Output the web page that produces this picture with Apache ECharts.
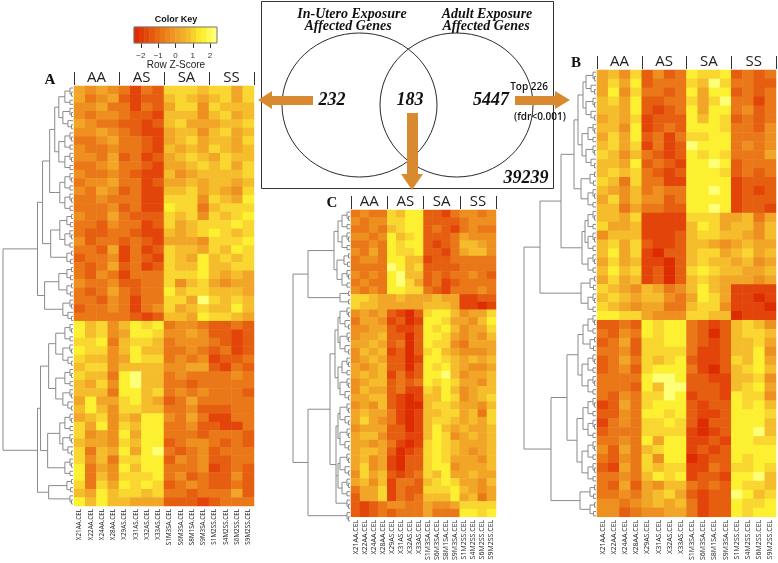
<!DOCTYPE html>
<html><head><meta charset="utf-8">
<style>html,body{margin:0;padding:0;background:#fff}#c{width:778px;height:563px}</style>
<script src="https://cdn.jsdelivr.net/npm/echarts@6/dist/echarts.min.js"></script>
</head><body><div id="c"></div>
<script>
const samples=['X21AA.CEL','X22AA.CEL','X24AA.CEL','X28AA.CEL','X29AS.CEL','X31AS.CEL','X32AS.CEL','X33AS.CEL','S1M3SA.CEL','S6M3SA.CEL','S8M1SA.CEL','S9M3SA.CEL','S1M2SS.CEL','S4M2SS.CEL','S6M2SS.CEL','S9M2SS.CEL'];
const groups=['AA','AS','SA','SS'];
const keyTicks=[-2,-1,0,1,2];
const keyLevels=[0,.6,1.2,1.8,2.4,3,3.6,4.2,4.8,5.4,6,6.8,7.6,8,8.5,9];
const vennCounts=['232','183','5447','39239'];
// colour level of each cell, 0 = most negative row z-score, 9 = most positive
const heatA=[
[5,4,5,4,3,1,3,2,7,7,7,6,7,7,5,7],[5,3,4,5,2,1,2,2,6,7,6,5,6,7,5,7],[4,4,5,3,3,1,3,2,5,7,7,4,7,6,6,6],[4,3,4,4,3,2,2,1,6,6,6,4,6,7,5,6],
[5,4,3,3,2,2,1,2,6,7,5,5,5,6,6,7],[4,4,5,4,3,2,1,1,5,6,6,4,6,7,5,6],[3,3,4,5,3,3,2,1,5,6,7,5,6,6,5,7],[4,3,3,4,3,3,2,1,6,5,6,5,7,6,5,6],
[4,4,3,5,2,3,1,2,5,6,7,6,5,7,6,6],[3,3,4,5,3,3,2,1,5,5,6,7,6,7,5,7],[4,3,3,4,3,2,1,1,6,4,5,6,6,6,6,7],[3,4,4,5,3,3,1,2,5,5,6,5,6,6,5,6],
[4,3,5,4,2,3,1,1,6,6,7,5,6,5,4,7],[3,3,4,3,3,3,1,1,7,7,7,4,7,6,5,8],[3,3,3,4,2,3,1,1,8,7,7,3,6,7,7,7],[4,3,3,5,3,2,2,2,7,6,7,4,7,6,7,8],
[3,3,2,4,3,3,1,2,7,5,6,7,7,7,8,7],[3,2,2,3,3,2,1,1,6,5,6,7,8,7,6,7],[4,2,3,3,2,3,2,1,5,5,5,4,7,7,7,8],[3,3,2,5,1,3,1,2,7,6,6,5,7,6,8,7],
[2,3,3,4,1,3,2,1,7,6,5,8,6,7,6,7],[3,2,3,5,2,3,1,2,7,6,6,8,6,6,7,7],[3,2,4,3,1,3,3,3,7,7,7,8,6,5,6,5],[4,3,3,4,2,2,3,3,7,4,6,7,5,4,5,5],
[3,2,3,5,3,2,3,3,8,6,7,7,6,6,6,5],[3,3,2,4,3,1,3,3,7,7,5,9,7,6,7,6],[2,3,3,4,3,1,3,4,7,5,6,7,6,6,8,6],[3,3,3,3,3,2,1,2,6,6,5,8,7,7,6,5],
[8,6,7,4,6,8,7,8,3,4,4,3,2,2,3,2],[8,6,7,4,5,8,8,7,4,4,5,4,2,2,1,2],[7,7,8,3,6,7,7,6,3,4,4,4,3,2,1,2],[8,7,7,4,6,8,6,6,3,3,4,3,2,3,1,2],
[7,6,6,4,5,8,7,7,3,4,3,4,1,2,2,3],[6,7,7,4,6,6,6,6,4,4,5,5,2,1,3,2],[7,6,6,3,8,9,6,6,3,4,3,3,3,3,4,3],[6,5,7,4,8,9,6,6,3,3,2,3,3,3,3,3],
[6,6,6,3,8,8,6,7,3,4,3,4,3,3,3,2],[5,8,5,5,7,8,6,5,2,3,5,3,3,3,3,3],[6,8,6,4,7,7,6,6,3,3,4,2,2,2,3,3],[5,6,7,4,6,5,8,8,4,3,5,3,1,1,3,3],
[7,5,8,4,7,6,8,8,3,3,4,2,2,1,1,3],[7,4,5,4,8,5,8,8,3,3,3,2,3,3,3,2],[6,5,5,4,7,6,8,8,2,3,4,4,3,2,3,2],[7,3,6,5,8,5,8,9,3,2,3,4,2,3,3,3],
[7,4,6,3,7,7,8,8,2,4,3,4,2,2,3,3],[8,3,5,4,8,6,8,8,3,3,3,4,1,2,3,2],[8,3,6,4,7,7,7,8,3,4,2,3,2,2,4,2],[7,3,7,5,8,7,8,7,2,3,4,3,2,2,3,2],
[6,5,8,6,7,7,6,7,3,3,2,3,3,3,5,2],[8,6,8,6,6,5,5,5,2,2,2,1,2,3,3,3]];
const heatB=[
[5,6,4,7,2,4,2,3,8,7,7,8,2,3,2,3],[5,7,5,8,2,3,3,3,7,6,9,7,3,3,2,2],[5,8,4,7,3,3,2,3,8,5,8,8,2,3,2,3],[6,7,5,8,2,2,3,3,7,5,7,9,3,3,1,3],
[6,6,5,8,2,1,2,3,8,5,8,8,3,4,2,3],[5,6,5,7,1,2,2,2,8,6,8,7,2,3,2,3],[6,6,4,8,1,2,3,2,8,8,8,7,3,3,2,4],[5,7,5,8,2,3,1,3,7,7,8,8,3,3,3,4],
[6,7,5,7,1,3,1,2,9,8,8,8,3,4,3,4],[7,6,4,6,3,2,1,2,8,7,8,7,3,3,3,5],[6,6,5,8,2,3,2,1,8,8,9,8,2,3,3,3],[6,7,6,7,3,2,1,2,8,8,8,7,2,3,2,3],
[7,6,3,7,3,3,1,1,8,8,8,8,1,2,2,2],[6,5,4,6,3,4,3,3,8,8,9,8,1,2,1,2],[5,7,4,6,4,4,2,3,8,8,8,8,1,2,2,2],[6,6,3,5,3,3,2,2,8,8,9,8,1,2,2,1],
[6,6,5,7,1,1,1,1,7,7,7,5,5,6,3,5],[7,5,5,6,1,1,1,1,6,8,7,5,6,6,4,6],[4,6,6,6,1,1,1,2,6,7,7,6,6,5,4,6],[6,7,5,7,2,1,1,2,6,6,5,4,5,6,5,5],
[6,8,5,7,1,0,2,2,6,7,7,5,6,7,5,6],[5,7,5,6,1,1,0,2,6,7,6,6,5,6,4,5],[6,8,6,7,1,2,0,2,7,8,7,6,6,5,5,6],[5,7,5,6,1,2,0,2,6,7,6,5,5,5,4,5],
[7,6,5,4,6,5,3,4,6,8,6,5,1,1,1,1],[6,7,6,5,6,6,4,3,5,8,7,5,1,1,0,1],[7,6,5,4,5,5,3,3,6,7,7,4,1,1,1,0],[8,8,7,7,5,4,4,4,7,7,6,6,0,1,1,1],
[2,2,3,2,8,7,8,8,3,2,1,2,6,7,6,4],[3,2,4,3,8,7,8,8,3,2,0,2,6,7,7,6],[2,3,5,2,7,7,8,8,3,2,1,2,6,6,7,5],[3,3,4,2,7,7,7,7,3,1,1,2,6,6,8,4],
[2,3,5,3,7,6,7,8,2,1,1,2,7,6,8,5],[2,3,4,2,7,8,8,8,3,1,0,2,6,7,8,6],[3,3,3,3,8,9,9,8,2,2,1,1,6,6,7,4],[3,3,3,2,8,6,9,9,2,2,2,1,6,7,8,5],
[3,2,4,3,7,7,9,8,1,2,2,1,8,7,7,4],[1,2,5,3,7,8,8,8,2,1,2,2,8,7,8,6],[2,2,4,3,8,8,7,8,2,1,1,2,8,8,8,7],[1,3,4,3,7,7,8,7,2,0,2,2,8,8,8,6],
[2,3,3,3,7,7,7,7,1,0,1,2,8,8,9,6],[3,3,4,3,8,5,8,8,1,1,2,1,8,8,7,7],[4,2,5,3,6,7,8,8,1,2,1,2,8,8,8,8],[3,2,4,3,7,4,8,8,0,1,2,2,8,7,8,8],
[2,1,5,3,7,6,7,7,1,1,3,2,7,7,8,7],[3,3,4,3,6,8,7,8,1,2,2,1,8,8,9,6],[3,2,5,2,5,4,6,6,3,2,3,2,8,7,7,6],[3,3,4,3,5,6,7,5,2,1,2,2,9,8,6,7],
[4,4,3,4,5,6,5,6,3,1,2,2,8,7,7,8],[4,4,2,3,4,4,5,5,3,1,2,2,8,7,8,8]];
const heatC=[
[3,4,3,3,7,6,8,8,2,2,1,3,4,4,3,4],[4,3,4,4,7,7,8,8,2,2,2,2,3,4,4,4],[3,3,4,3,6,7,8,8,2,3,2,1,3,4,3,3],[4,4,3,4,8,6,7,8,2,2,2,3,5,4,4,4],
[3,3,4,3,8,7,8,8,2,1,2,3,6,6,5,4],[4,3,5,3,8,7,7,8,2,2,1,3,5,6,6,4],[3,4,4,3,8,8,6,6,1,2,2,3,3,3,3,3],[3,3,3,3,9,8,6,7,2,2,2,2,3,3,3,3],
[4,3,4,3,8,9,6,6,2,3,2,3,3,4,3,2],[3,4,3,3,8,9,7,5,2,3,1,2,3,3,3,3],[4,3,4,3,8,8,7,7,3,2,1,3,3,3,4,3],[7,7,6,5,5,6,5,5,5,6,5,5,1,1,2,2],
[7,6,6,5,5,5,5,5,6,6,6,5,1,1,0,1],[4,5,4,5,2,1,0,2,7,8,8,6,4,5,5,7],[3,5,5,4,1,2,0,1,8,8,7,5,5,4,6,8],[4,4,5,5,2,1,1,2,8,7,8,6,4,5,5,7],
[4,5,5,6,2,2,0,2,8,8,7,5,4,5,4,6],[5,5,6,5,2,3,0,2,8,7,7,4,3,5,5,5],[4,6,5,6,1,2,0,2,7,8,6,5,4,4,4,5],[4,5,6,5,2,2,0,1,8,8,7,6,5,6,5,6],
[5,4,5,6,2,2,0,2,8,7,8,6,5,4,4,5],[5,6,5,6,1,3,1,2,8,8,9,6,4,5,5,6],[4,5,6,6,2,3,2,3,8,7,8,7,5,5,4,6],[4,6,5,5,2,3,1,1,7,6,8,6,4,5,6,6],
[5,5,6,6,2,1,0,1,6,6,8,7,4,5,6,7],[4,5,4,6,2,1,0,0,6,7,7,6,5,5,4,6],[5,6,5,5,3,1,0,1,6,6,7,7,5,6,3,7],[5,7,5,4,3,1,0,1,6,7,7,6,5,6,5,7],
[4,5,5,5,2,2,0,1,6,8,6,5,6,5,5,6],[5,6,6,4,2,2,1,1,6,8,7,4,5,6,5,6],[5,5,4,5,3,1,0,1,7,8,7,6,5,5,5,6],[5,6,6,5,2,0,1,2,7,8,7,6,5,4,5,6],
[5,6,4,5,1,0,2,2,7,8,7,5,5,5,4,6],[5,7,4,5,1,0,2,2,7,8,8,4,5,5,5,6],[4,7,5,6,2,1,2,3,7,6,8,5,5,6,5,5],[5,6,4,6,1,3,3,2,6,7,8,7,5,5,4,6],
[3,5,5,7,1,3,2,2,7,7,7,8,6,5,4,5],[2,5,5,7,1,3,2,3,6,6,6,8,5,6,3,5],[2,1,2,3,4,4,3,3,5,4,4,5,7,7,7,7],[2,1,2,3,2,3,3,3,5,3,3,3,8,8,7,8]];
// dendrogram twigs: [merge height, child, child]; 0 is a leaf
const p=[1.5,0,0], q=[3,0,p], r4=[6,p,[2.5,0,0]], r5=[8,q,[3,0,0]], r6=[10,q,[5,0,p]];
const treeA=[69,
 [35,[30,[23,[18,[14,r5,r6],[14,r5,r5]],[17,[13,r5,r5]]],[22,[13,r4,r5],r4]],[28,[14,r4,r4],r6]],
 [35,[32,[24,[17,r5,r6],[17,r5,r6]],[25,[13,r5,r6],r5]],[24,r4,q]]];
const treeB=[72,
 [56,[35,[22,[18,[13,r6,r6],[14,r5,r6]],[15,r4,r5]],[14,[11,r5,r5],r5]],[15,r4,r5]],
 [45,[29,[18,[13,r5,r4],[14,r5,r5]],[19,[13,r5,r5],[14,r5,r5]]],[16,r4,r4]]];
const treeC=[57,
 [42,[16,[12,r5,r5],[13,r4,r5]],[10,p,p]],
 [42,[20,[15,[12,r6,r6],[12,r5,r6]],[14,[12,r6,r6],[12,r6,r5],q]],q]];
const colours=['#dd2c00','#e2440a','#e65e10','#ea7818','#ee9020','#f1a628','#f5bd2c','#f9d630','#fdf030','#ffff78'];
const sans='"Open Sans"', serif='"Liberation Serif"';

function walk(node,st,segs){
  if(node===0){st.n++;return{y:st.n-.5,h:0};}
  const kids=node.slice(1).map(k=>walk(k,st,segs));
  const h=node[0];
  kids.forEach(k=>segs.push([k.h,k.y,h,k.y]));
  if(kids.length>1)segs.push([h,kids[0].y,h,kids[kids.length-1].y]);
  return{y:(kids[0].y+kids[kids.length-1].y)/2,h};
}
function dendroSegs(tree){const st={n:0},segs=[];walk(tree,st,segs);return{segs,n:st.n};}
const renderSeg=(ps,api)=>{
  const a=api.coord([api.value(0),api.value(1)]),b=api.coord([api.value(2),api.value(3)]);
  return{type:'line',shape:{x1:a[0],y1:a[1],x2:b[0],y2:b[1]},style:{stroke:'#8a8a8a',lineWidth:1,fill:null}};
};
const panels=[
 {rows:heatA,tree:treeA,g:{left:74,top:86,width:180,height:420},d:{left:3,width:70},fs:6.3},
 {rows:heatB,tree:treeB,g:{left:597,top:70,width:179,height:448},d:{left:524,width:72},fs:7},
 {rows:heatC,tree:treeC,g:{left:351,top:210,width:145,height:313},d:{left:293,width:57},fs:7}
];
const grid=[],xAxis=[],yAxis=[],series=[],heatIdx=[];
panels.forEach(P=>{
  const gi=grid.length;
  grid.push(P.g);
  xAxis.push({type:'category',gridIndex:gi,data:samples,position:'bottom',axisLine:{show:false},axisTick:{show:false},
    axisLabel:{interval:0,rotate:90,fontSize:P.fs,margin:3,color:'#222',fontFamily:sans}});
  xAxis.push({type:'category',gridIndex:gi,data:groups,position:'top',offset:1,axisLine:{show:false},
    axisTick:{show:true,length:13,lineStyle:{color:'#333',width:1}},
    axisLabel:{interval:0,fontSize:15,margin:0,color:'#222',fontFamily:sans}});
  yAxis.push({type:'category',gridIndex:gi,inverse:true,data:P.rows.map((_,i)=>i),show:false});
  const cells=[];P.rows.forEach((r,i)=>r.forEach((v,j)=>cells.push([j,i,v])));
  heatIdx.push(series.length);
  series.push({type:'heatmap',xAxisIndex:xAxis.length-2,yAxisIndex:yAxis.length-1,data:cells,itemStyle:{borderWidth:0},emphasis:{disabled:true},progressive:0});
  const dg=grid.length, D=dendroSegs(P.tree);
  grid.push({left:P.d.left,width:P.d.width,top:P.g.top,height:P.g.height});
  xAxis.push({type:'value',gridIndex:dg,inverse:true,min:0,max:P.tree[0],show:false});
  yAxis.push({type:'value',gridIndex:dg,inverse:true,min:0,max:D.n,show:false});
  series.push({type:'custom',xAxisIndex:xAxis.length-1,yAxisIndex:yAxis.length-1,data:D.segs,renderItem:renderSeg,encode:{x:[0,2],y:[1,3]},silent:true,clip:false});
});
// colour key
const kg=grid.length;
grid.push({left:134,top:27,width:83,height:16});
xAxis.push({type:'category',gridIndex:kg,data:keyLevels.map((_,i)=>i),show:false});
xAxis.push({type:'value',gridIndex:kg,min:-2.4,max:2.4,position:'bottom',axisLine:{show:false},splitLine:{show:false},
  axisTick:{show:true,customValues:keyTicks,length:5,lineStyle:{color:'#333'}},
  axisLabel:{customValues:keyTicks,fontSize:8,margin:9,color:'#333',fontFamily:'"Liberation Sans"',formatter:v=>String(v).replace('-','\u2212')}});
yAxis.push({type:'category',gridIndex:kg,data:['k'],show:false});
heatIdx.push(series.length);
series.push({type:'heatmap',xAxisIndex:xAxis.length-2,yAxisIndex:yAxis.length-1,data:keyLevels.map((v,i)=>[i,0,v]),emphasis:{disabled:true}});

const txt=(x,y,text,font,fill='#111',align='center')=>({type:'text',x,y,z:20,style:{text,x:0,y:0,font,fill,align,verticalAlign:'middle'}});
const arrowCol='#d98a30';
const poly=pts=>({type:'polygon',z:15,shape:{points:pts},style:{fill:arrowCol}});
const ring=(x,y,r)=>({type:'circle',x,y,scaleY:72/r,z:12,shape:{cx:0,cy:0,r},style:{fill:'none',stroke:'#222',lineWidth:1}});
const tfont=`italic bold 14px ${serif}`, nfont=`italic bold 18px ${serif}`;
const graphic=[
 {type:'rect',z:10,shape:{x:261.5,y:1.5,width:292,height:187},style:{fill:'#fff',stroke:'#333',lineWidth:1}},
 {type:'rect',z:30,shape:{x:134,y:27,width:83,height:16},style:{fill:'none',stroke:'#777',lineWidth:1}},
 ring(359.5,105,77.5),ring(456.5,105,76.5),
 poly([[258,100],[272,91],[272,96],[313,96],[313,105],[272,105],[272,109]]),
 poly([[515,96],[555,96],[555,91],[570,100],[555,109],[555,105],[515,105]]),
 poly([[407,113],[418,113],[418,174],[423,174],[412,190],[401,174],[407,174]]),
 txt(352,14,'In-Utero Exposure',tfont),txt(348,26,'Affected Genes',tfont),
 txt(487,14,'Adult Exposure',tfont),txt(486,26,'Affected Genes',tfont),
 txt(332,100,vennCounts[0],nfont),txt(410,100,vennCounts[1],nfont),txt(491,100,vennCounts[2],nfont),txt(526,178,vennCounts[3],nfont),
 txt(529,87,'Top 226',`600 10px ${sans}`),txt(540,117,'(fdr<0.001)',`600 10px ${sans}`),
 txt(50,80,'A',`bold 15px ${serif}`),txt(576,63,'B',`bold 15px ${serif}`),txt(332,203,'C',`bold 15px ${serif}`),
 txt(176,20,'Color Key','bold 9px "Liberation Sans"'),txt(176,65,'Row Z-Score','10px "Liberation Sans"','#222')
];
const chart=echarts.init(document.getElementById('c'),null,{renderer:'canvas'});
chart.setOption({animation:false,backgroundColor:'#fff',grid,xAxis,yAxis,series,graphic,tooltip:{show:false},
  visualMap:[{type:'continuous',show:false,min:0,max:9,dimension:2,seriesIndex:heatIdx,inRange:{color:colours}}]});
</script></body></html>
